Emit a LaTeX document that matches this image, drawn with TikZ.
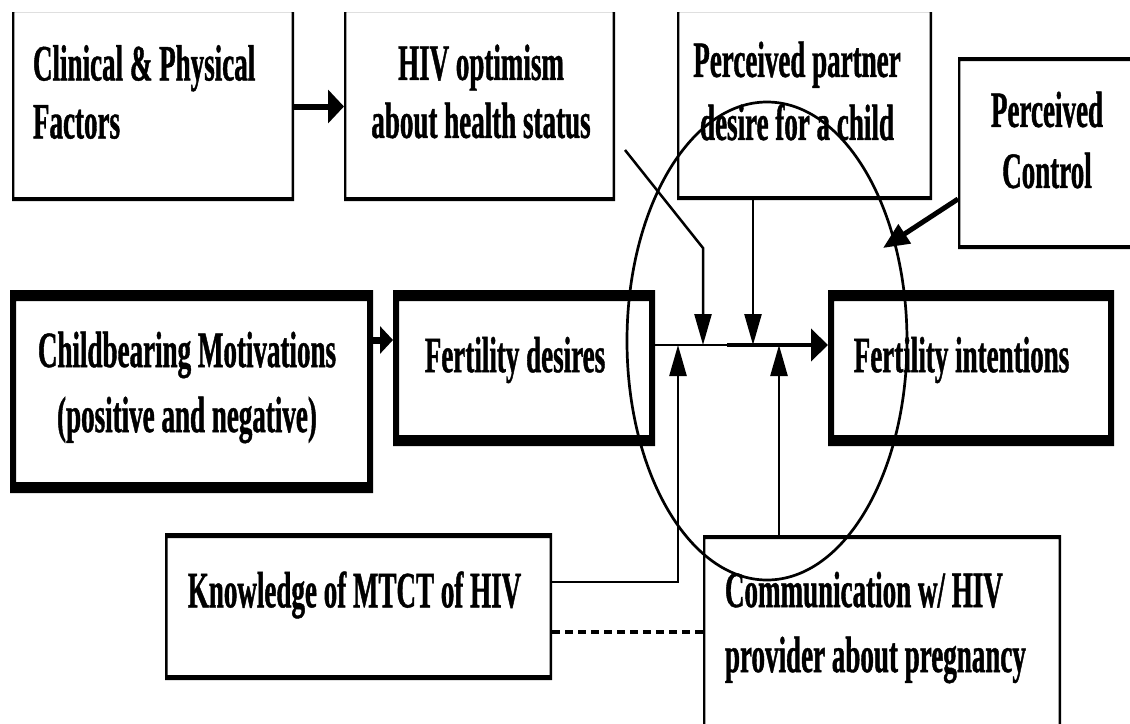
\documentclass[tikz,border=0pt]{standalone}
\usepackage{fontspec}
\setmainfont{Liberation Serif}[FakeStretch=0.53,BoldFeatures={FakeBold=0.8}]
\usetikzlibrary{arrows.meta,shapes.geometric}
\begin{document}
\begin{tikzpicture}[x=1pt,y=-1pt,
  box/.style={draw=none,rectangle,inner sep=0pt,outer sep=0pt},
  frame/.style={fill=black,even odd rule},
  txt/.style={inner sep=0pt,outer sep=0pt,font=\fontsize{51}{63}\selectfont\bfseries},
  ln/.style={line width=2.5pt},
  vtip/.tip={Triangle[length=31pt,width=17pt]}
]
\path[use as bounding box,fill=white] (0,0) rectangle (1130,723);

% ---------- boxes ----------
\node[box,minimum width=282pt,minimum height=189pt] (clin) at (153,106.5) {};
\node[box,minimum width=271pt,minimum height=189pt] (hiv) at (479.5,106.5) {};
\node[box,minimum width=255pt,minimum height=188pt] (part) at (804.5,106) {};
\node[box,minimum width=182pt,minimum height=192pt] (ctl) at (1049,153) {};
\node[box,minimum width=363pt,minimum height=203pt] (cb) at (191.5,391.5) {};
\node[box,minimum width=262pt,minimum height=156pt] (fd) at (524,368) {};
\node[box,minimum width=286pt,minimum height=156pt] (fi) at (971,368) {};
\node[box,minimum width=387pt,minimum height=147pt] (kn) at (358.5,606.5) {};
\node[box,minimum width=358pt,minimum height=200pt] (com) at (882,635) {};

% open-top thin frames
\foreach \n in {clin,hiv,part}{
  \fill[frame] (\n.north west) rectangle (\n.south east)
    ([shift={(2.4,0)}]\n.north west) rectangle ([shift={(-2.4,-4)}]\n.south east);
}
% closed thin frames
\foreach \n in {ctl,com}{
  \fill[frame] (\n.north west) rectangle (\n.south east)
    ([shift={(2.4,4)}]\n.north west) rectangle ([shift={(-2.4,-4)}]\n.south east);
}
\fill[frame] (kn.north west) rectangle (kn.south east)
  ([shift={(2.5,5)}]kn.north west) rectangle ([shift={(-2.5,-5)}]kn.south east);
% thick frames
\foreach \n in {cb,fd,fi}{
  \fill[frame] (\n.north west) rectangle (\n.south east)
    ([shift={(6,11)}]\n.north west) rectangle ([shift={(-6,-11)}]\n.south east);
}

% ---------- texts ----------
\node[txt,align=left,anchor=west,font=\fontsize{51}{58}\selectfont\bfseries] (tclin) at (33,92) {Clinical \& Physical\\Factors};
\node[txt,align=center,font=\fontsize{51}{58}\selectfont\bfseries] (thiv) at (481,91.5) {HIV optimism\\about health status};
\node[txt,align=center] (tpart) at (797,91) {Perceived partner\\desire for a child};
\node[txt,align=center,font=\fontsize{51}{61}\selectfont\bfseries] (tctl) at (1047,140) {Perceived\\Control};
\node[txt,align=center,font=\fontsize{51}{65}\selectfont\bfseries] (tcb) at (187,387.5) {Childbearing Motivations\\(positive and negative)};
\node[txt] (tfd) at (515,360) {Fertility desires};
\node[txt] (tfi) at (961.5,360) {Fertility intentions};
\node[txt] (tkn) at (354.5,595) {Knowledge of MTCT of HIV};
\node[txt,align=left,anchor=west,font=\fontsize{51}{65}\selectfont\bfseries] (tcom) at (725,627.5) {Communication w/ HIV\\provider about pregnancy};

% ---------- helper coordinates ----------
\coordinate (r1) at (0,340);
\coordinate (my) at (0,345);
\coordinate (mid) at (727,345);
\coordinate (ds) at (625,150);
\coordinate (db) at (703,248);
\coordinate (xp) at (753,0);
\coordinate (kc) at (678,582);
\coordinate (xc) at (779,0);
\coordinate (ct) at (883,248);
\coordinate (dl) at (0,632);

% ---------- connectors ----------
\draw[line width=6pt,-{Triangle[length=16pt,width=33pt]}] (clin.east) -- (hiv.west);
\draw[line width=7pt,-{Triangle[length=13pt,width=27pt]}] (cb.east |- r1) -- (fd.west |- r1);
\draw[ln] (fd.east |- my) -- (mid);
\draw[line width=4.5pt,-{Triangle[length=17pt,width=32pt]}] (mid) -- (fi.west |- my);
\draw[ln,-vtip] (ds) -- (db) -- (db |- my);
\draw[ln,-vtip] (part.south -| xp) -- (xp |- my);
\draw[ln,-vtip] (kn.east |- kc) -- (kc) -- (kc |- my);
\draw[ln,-vtip] (com.north -| xc) -- (xc |- my);
\draw[line width=5pt,-{Triangle[length=26pt,width=22pt]}] ([shift={(0,-50)}]ctl.south west) -- (ct);
\draw[line width=4pt,dash pattern=on 8pt off 5pt] (kn.east |- dl) -- (com.west |- dl);

% ---------- ellipse ----------
\node[draw,ellipse,line width=2.7pt,minimum width=280pt,minimum height=478pt,inner sep=0pt] (ring) at (767,341) {};
\end{tikzpicture}
\end{document}
